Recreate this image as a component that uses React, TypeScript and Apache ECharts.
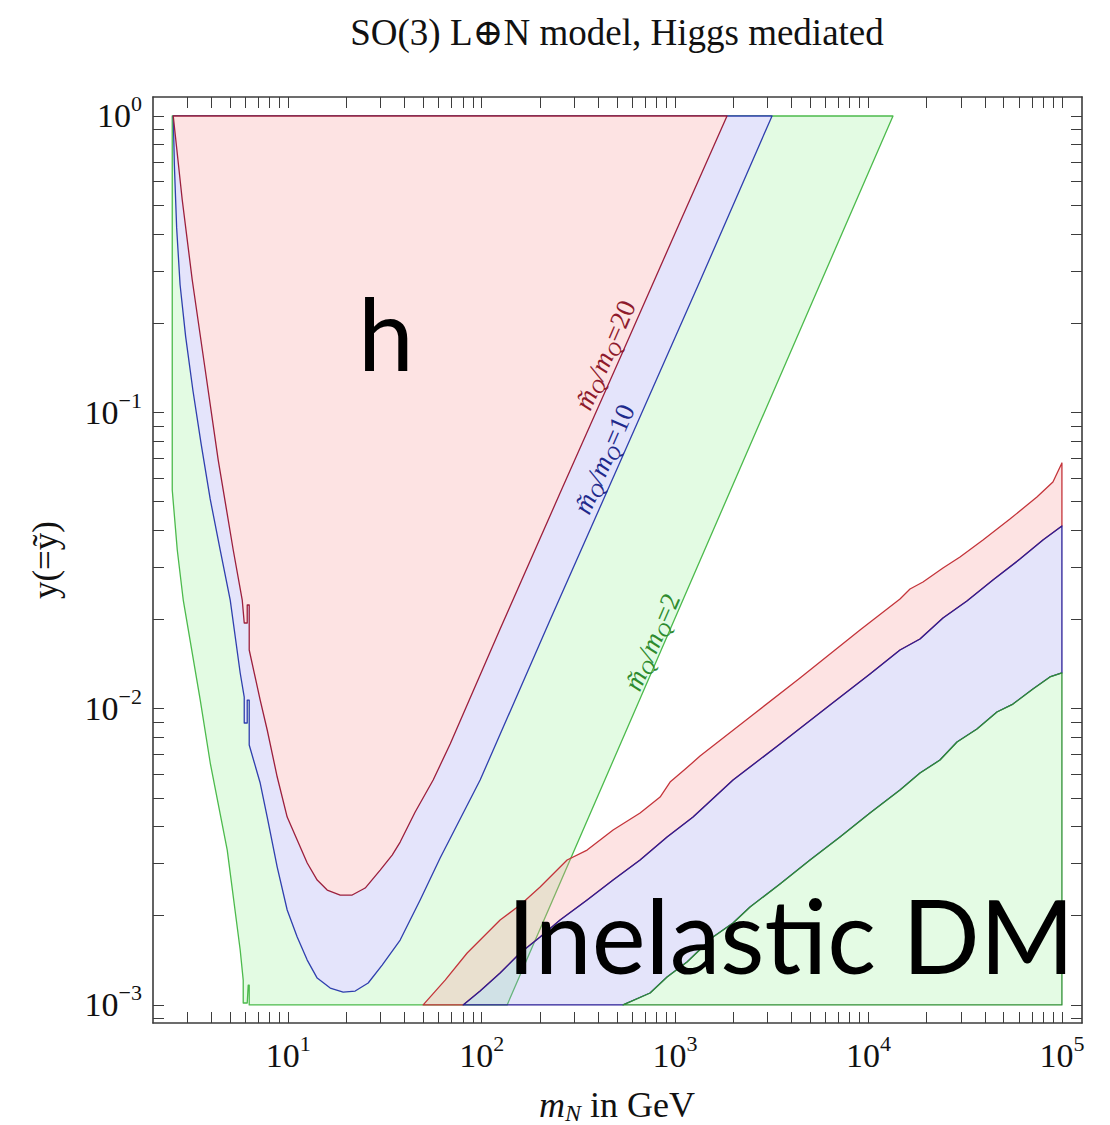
import React, { useEffect, useRef } from 'react';
import * as echarts from 'echarts';

// ---- axis ranges / ticks ----
const X_MIN = 2;
const X_MAX = 1.27e5;
const Y_MIN = 8.69e-4;
const Y_MAX = 1.159;
const X_LABELS = [10, 100, 1000, 10000, 100000];
const Y_LABELS = [0.001, 0.01, 0.1, 1];
const MANTISSAS = [1, 2, 3, 4, 5, 6, 7, 8, 9];
const X_DECADES = [1, 10, 100, 1000, 10000, 100000];
const Y_DECADES = [1e-4, 1e-3, 1e-2, 1e-1, 1];

// ---- "h" region boundaries (m_N in GeV, y) ----
const RED_H_X = [2.545, 2.833, 3.191, 3.725, 4.347, 5.198, 5.786, 5.925, 6.14, 6.14, 6.287, 6.287, 7.165, 7.79, 8.774, 9.88, 11.13, 12.54, 14.12, 15.91, 18.57, 21.42, 25.0, 29.89, 34.47, 37.92, 45.33, 56.16, 68.75, 124.6, 254.4, 519.6, 1061, 1856];
const RED_H_Y = [1, 0.5206, 0.2795, 0.1389, 0.069, 0.0343, 0.02325, 0.01945, 0.01945, 0.02237, 0.02237, 0.01577, 0.01069, 0.00847, 0.005877, 0.004306, 0.003601, 0.003012, 0.002639, 0.002442, 0.002349, 0.002349, 0.00248, 0.002852, 0.003205, 0.003546, 0.004477, 0.005741, 0.007597, 0.01856, 0.0534, 0.1525, 0.4387, 1];

const BLUE_H_X = [2.545, 2.58, 2.65, 2.76, 2.95, 3.22, 3.55, 3.95, 4.452, 5.015, 5.647, 5.925, 5.925, 6.14, 6.14, 6.287, 6.287, 7.165, 7.79, 8.774, 9.88, 11.13, 12.54, 14.12, 16.49, 19.24, 22.2, 25.91, 30.6, 37.92, 48.11, 61.03, 98.22, 225.9, 519.6, 1346, 3172];
const BLUE_H_Y = [1, 0.68, 0.42, 0.27, 0.18, 0.118, 0.078, 0.051, 0.0343, 0.02325, 0.01319, 0.01094, 0.008942, 0.008942, 0.01069, 0.01069, 0.007538, 0.005609, 0.004306, 0.00292, 0.002091, 0.001695, 0.001417, 0.001232, 0.00114, 0.001105, 0.001114, 0.001186, 0.001363, 0.001656, 0.002259, 0.003131, 0.005741, 0.01991, 0.06796, 0.2774, 1];

const GREEN_H_X = [2.515, 2.515, 2.67, 2.867, 3.51, 3.954, 4.84, 5.647, 5.854, 5.854, 6.14, 6.213, 6.287, 6.287, 135.5, 13385];
const GREEN_H_Y = [1, 0.05466, 0.0343, 0.02325, 0.01069, 0.006553, 0.003332, 0.001532, 0.001213, 0.001015, 0.001015, 0.001167, 0.001167, 0.001, 0.001, 1];

// ---- "Inelastic DM" boundaries ----
const RED_IN_X = [49.86, 64.78, 84.17, 124.6, 158.1, 200.6, 276.6, 351.0, 478.2, 659.4, 836.7, 942.3, 1130, 1346, 2441, 4426, 9040, 14550, 16390, 19130, 24270, 29720, 39070, 53860, 74270, 89840, 100000];
const RED_IN_Y = [0.001, 0.001213, 0.001497, 0.001934, 0.002174, 0.002499, 0.003083, 0.003332, 0.003894, 0.004443, 0.00503, 0.005650, 0.006250, 0.006918, 0.009367, 0.01269, 0.01842, 0.02344, 0.02533, 0.02675, 0.02981, 0.03248, 0.03707, 0.04363, 0.05177, 0.05818, 0.06745];

const BLUE_IN_X = [80.25, 98.22, 124.6, 158.1, 200.6, 254.4, 351.0, 478.2, 659.4, 909.4, 1239, 1994, 3488, 6324, 10180, 14550, 18460, 24270, 32280, 43990, 60670, 79780, 100000];
const BLUE_IN_Y = [0.001, 0.001114, 0.001281, 0.001497, 0.001695, 0.001934, 0.002259, 0.002639, 0.003083, 0.003687, 0.004306, 0.005741, 0.007597, 0.01028, 0.01308, 0.01577, 0.01718, 0.02022, 0.02307, 0.02716, 0.03197, 0.03707, 0.04133];

const GREEN_IN_X = [538.7, 742.8, 909.4, 1153, 1572, 1994, 2441, 3488, 4986, 7123, 10180, 14550, 18460, 23420, 28680, 36370, 46140, 55830, 70810, 86700, 100000];
const GREEN_IN_Y = [0.001, 0.001097, 0.001242, 0.001396, 0.001695, 0.00189, 0.00214, 0.002559, 0.003083, 0.003687, 0.004443, 0.005313, 0.006062, 0.006706, 0.007717, 0.008536, 0.009739, 0.01036, 0.01164, 0.01279, 0.01319];

const BAND_BOTTOM_Y = 0.001;

// ---- styles ----
const SERIF = '"Liberation Serif", "DejaVu Serif", serif';
const SANS = 'Lato, "Open Sans", sans-serif';
const FRAME = '#3c3c3c';
const INK = '#111111';

const X_TICKS = X_DECADES.flatMap((d) => MANTISSAS.map((m) => m * d)).filter((v) => v > X_MIN * 1.01 && v < X_MAX);
const Y_TICKS = Y_DECADES.flatMap((d) => MANTISSAS.map((m) => m * d)).filter((v) => v > Y_MIN && v < Y_MAX);

const powLabel = (v: number) => {
  const e = Math.round(Math.log10(v));
  return `{b|10}{e|${e < 0 ? '\u2212' + -e : e}}`;
};
const LABEL_RICH = {
  b: { fontFamily: SERIF, fontSize: 34, color: INK },
  e: { fontFamily: SERIF, fontSize: 22, color: INK, padding: [0, 0, 24, 0] },
};

function axisCfg(kind: 'x' | 'y', pos: string, labels: boolean) {
  const isX = kind === 'x';
  return {
    type: 'log',
    logBase: 10,
    min: isX ? X_MIN : Y_MIN,
    max: isX ? X_MAX : Y_MAX,
    position: pos,
    z: 10,
    axisLine: { show: true, onZero: false, lineStyle: { color: FRAME, width: 1.6 } },
    axisTick: {
      show: true,
      inside: true,
      length: 11,
      customValues: isX ? X_TICKS : Y_TICKS,
      lineStyle: { color: FRAME, width: 1 },
    },
    minorTick: { show: false },
    splitLine: { show: false },
    axisLabel: labels
      ? {
          show: true,
          customValues: isX ? X_LABELS : Y_LABELS,
          margin: isX ? 9 : 11,
          formatter: powLabel,
          rich: LABEL_RICH,
        }
      : { show: false },
  };
}

function polygonSeries(xs: number[], ys: number[], fill: string, stroke: string, z: number) {
  return {
    type: 'custom',
    coordinateSystem: 'cartesian2d',
    xAxisIndex: 0,
    yAxisIndex: 0,
    silent: true,
    z,
    data: [[xs[0], ys[0]]],
    renderItem: (_p: any, api: any) => ({
      type: 'polygon',
      shape: { points: xs.map((x, i) => api.coord([x, ys[i]])) },
      style: { fill, stroke, lineWidth: 1.3, lineJoin: 'round' },
    }),
  };
}

function lineLabel(x: number, y: number, ratio: string, color: string) {
  return {
    type: 'text',
    x,
    y,
    rotation: 1.162,
    z: 20,
    style: {
      text: `{i|m\u0303}{s|Q}{i|/m}{s|Q}{r|=${ratio}}`,
      fill: color,
      align: 'center',
      verticalAlign: 'middle',
      textAlign: 'center',
      textVerticalAlign: 'middle',
      rich: {
        i: { fontFamily: SERIF, fontSize: 27, fontStyle: 'italic', fill: color },
        s: { fontFamily: SERIF, fontSize: 19, fontStyle: 'italic', fill: color, padding: [13, 0, 0, 0] },
        r: { fontFamily: SERIF, fontSize: 27, fill: color },
      },
    },
  };
}

function plainText(x: number, y: number, text: string, family: string, size: number, align: string, extra: any = {}) {
  return {
    type: 'text',
    x,
    y,
    z: 20,
    ...extra,
    style: {
      text,
      fontFamily: family,
      fontSize: size,
      fill: extra.fill || INK,
      align,
      verticalAlign: 'middle',
      textAlign: align,
      textVerticalAlign: 'middle',
    },
  };
}

export default function App() {
  const ref = useRef<HTMLDivElement>(null);
  useEffect(() => {
    document.body.style.margin = '0';
    const chart = echarts.init(ref.current!, null, { renderer: 'svg' });

    const redBandX = [...RED_IN_X, ...BLUE_IN_X.slice().reverse()];
    const redBandY = [...RED_IN_Y, ...BLUE_IN_Y.slice().reverse()];
    const blueBandX = [...BLUE_IN_X, ...GREEN_IN_X.slice().reverse()];
    const blueBandY = [...BLUE_IN_Y, ...GREEN_IN_Y.slice().reverse()];
    const greenBandX = [...GREEN_IN_X, GREEN_IN_X[GREEN_IN_X.length - 1]];
    const greenBandY = [...GREEN_IN_Y, BAND_BOTTOM_Y];

    const option: any = {
      animation: false,
      backgroundColor: '#ffffff',
      grid: { left: 153, top: 97, width: 929, height: 926 },
      xAxis: [axisCfg('x', 'bottom', true), axisCfg('x', 'top', false)],
      yAxis: [axisCfg('y', 'left', true), axisCfg('y', 'right', false)],
      series: [
        polygonSeries(GREEN_H_X, GREEN_H_Y, '#e3fbe3', '#4cba4c', 1),
        polygonSeries(BLUE_H_X, BLUE_H_Y, '#e4e4fb', '#2f3fae', 2),
        polygonSeries(RED_H_X, RED_H_Y, '#fde3e3', '#9c1f3c', 3),
        polygonSeries(redBandX, redBandY, 'rgba(248,162,162,0.3)', '#c4343a', 4),
        polygonSeries(blueBandX, blueBandY, 'rgba(165,165,238,0.3)', '#2a1e96', 5),
        polygonSeries(greenBandX, greenBandY, 'rgba(165,242,165,0.3)', '#2f8f33', 6),
      ],
      graphic: [
        plainText(617, 32, 'SO(3) L\u2295N model, Higgs mediated', SERIF, 37, 'center'),
        plainText(45, 560, 'y(=\u1ef9)', SERIF, 35, 'center', { rotation: Math.PI / 2 }),
        {
          type: 'text',
          x: 617,
          y: 1105,
          style: {
            text: '{i|m}{s|N}{r| in GeV}',
            fill: INK,
            align: 'center',
            verticalAlign: 'middle',
            textAlign: 'center',
            textVerticalAlign: 'middle',
            rich: {
              i: { fontFamily: SERIF, fontSize: 36, fontStyle: 'italic', fill: INK },
              s: { fontFamily: SERIF, fontSize: 24, fontStyle: 'italic', fill: INK, padding: [16, 0, 0, 0] },
              r: { fontFamily: SERIF, fontSize: 36, fill: INK },
            },
          },
        },
        plainText(358, 332, 'h', SANS, 100, 'left', { fill: '#000' }),
        plainText(507, 934, 'Inelastic DM', SANS, 102, 'left', { fill: '#000' }),
        lineLabel(605, 355, '20', '#8e1a2c'),
        lineLabel(604, 459, '10', '#1f2a8c'),
        lineLabel(652, 642, '2', '#2e8b2e'),
      ],
    };
    chart.setOption(option);
    return () => chart.dispose();
  }, []);
  return <div ref={ref} style={{ width: 1110, height: 1125 }} />;
}
